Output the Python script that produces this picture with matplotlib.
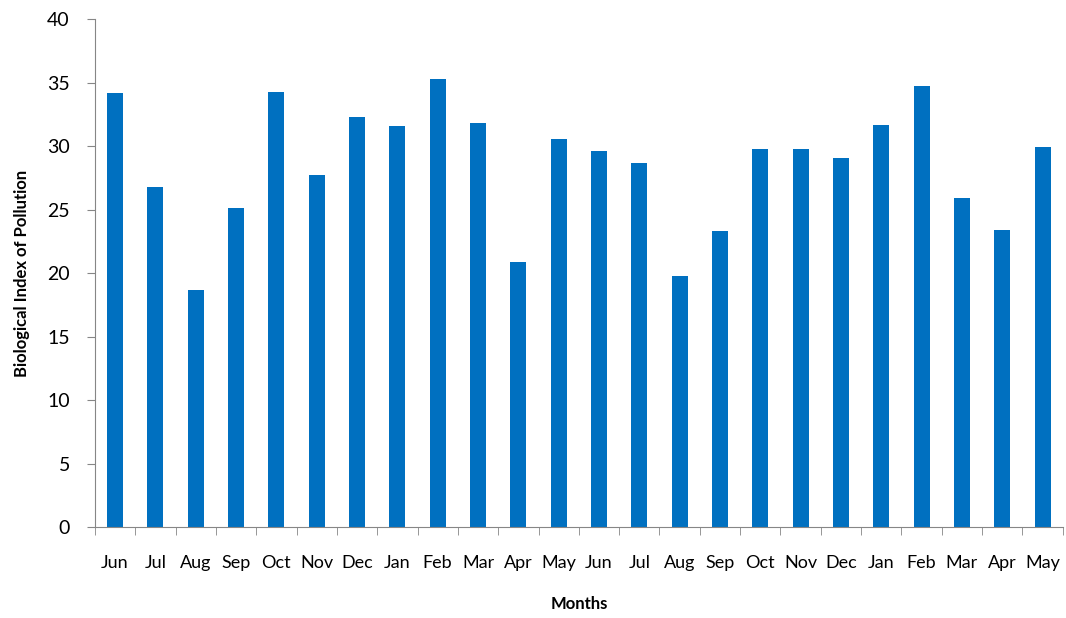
import numpy as np
import matplotlib.pyplot as pp
import matplotlib as mp

mp.rcParams.update({'font.family': ['Lato', 'DejaVu Sans']})

months = ['Jun', 'Jul', 'Aug', 'Sep', 'Oct', 'Nov', 'Dec', 'Jan', 'Feb', 'Mar', 'Apr', 'May',
          'Jun', 'Jul', 'Aug', 'Sep', 'Oct', 'Nov', 'Dec', 'Jan', 'Feb', 'Mar', 'Apr', 'May']
bip = [34.2, 26.8, 18.7, 25.1, 34.3, 27.7, 32.3, 31.6, 35.3, 31.8, 20.9, 30.6,
       29.6, 28.7, 19.8, 23.3, 29.8, 29.8, 29.1, 31.7, 34.7, 25.9, 23.4, 29.9]

fig, ax = pp.subplots(figsize=(10.66, 6.18), dpi=100)
fig.subplots_adjust(left=0.089, right=0.997, bottom=0.147, top=0.969)

x = np.arange(len(months))
ax.bar(x, bip, width=0.4, color='#0070C0')

ax.set_xlim(-0.5, len(months) - 0.5)
ax.set_ylim(0, 40)
ax.set_yticks(range(0, 41, 5))
ax.set_xticks(x)
ax.set_xticklabels(months, fontsize=13)
ax.set_xticks(np.arange(-0.5, len(months)), minor=True)
ax.tick_params(axis='x', which='major', length=0, pad=20)
ax.tick_params(axis='x', which='minor', length=6, color='#868686')
ax.tick_params(axis='y', length=6, color='#868686', labelsize=14, pad=12)

for s in ['top', 'right']:
    ax.spines[s].set_visible(False)
for s in ['left', 'bottom']:
    ax.spines[s].set_color('#868686')

ax.set_xlabel('Months', fontsize=12, fontweight='bold', labelpad=18)
ax.set_ylabel('Biological Index of Pollution', fontsize=12, fontweight='bold', labelpad=12)

fig.savefig('out.png', dpi=100)
